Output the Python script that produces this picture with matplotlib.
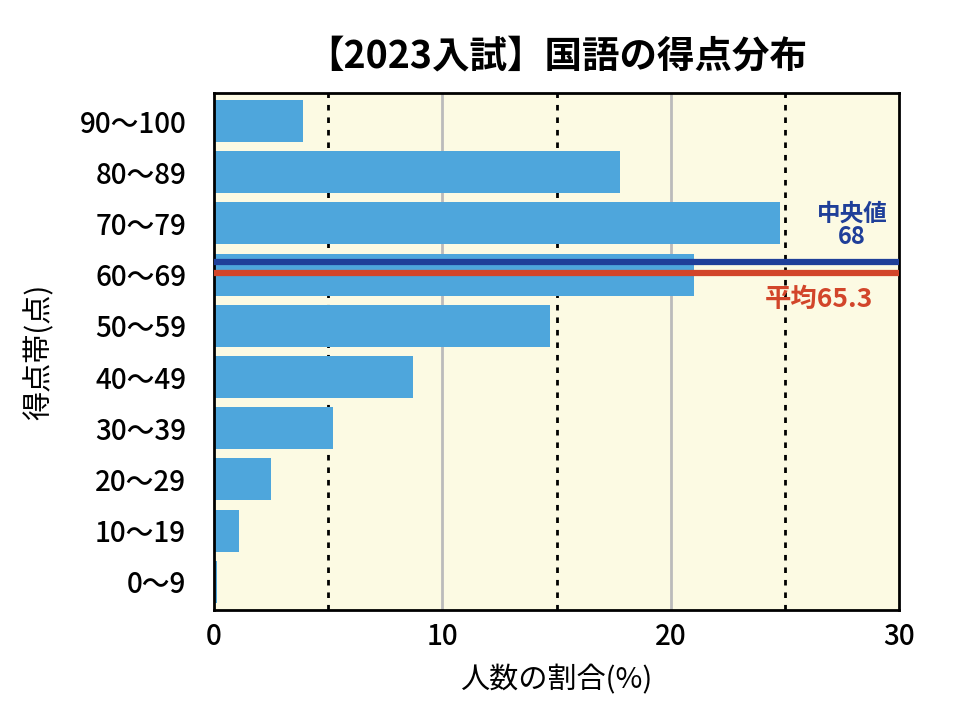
import matplotlib
matplotlib.use("Agg")
import matplotlib.pyplot as plt

plt.rcParams['font.family'] = ['Noto Sans CJK JP', 'DejaVu Sans']

bands = ["0〜9", "10〜19", "20〜29", "30〜39", "40〜49",
         "50〜59", "60〜69", "70〜79", "80〜89", "90〜100"]
ratio = [0.15, 1.1, 2.5, 5.2, 8.7, 14.7, 21.0, 24.8, 17.8, 3.9]
median = 68
mean = 65.3


def score_pos(v):
  # 60~69 の帯の中で位置を決める
  return 6 + (v - 65) / 10 * 0.8


fig = plt.figure(figsize=(9.61, 7.15), dpi=100)
ax = fig.add_axes([0.2227, 0.1469, 0.7128, 0.7231])
ax.set_facecolor("#fcfae3")

ax.barh(range(len(bands)), ratio, height=0.82, color="#4ea6dc", zorder=2)

for x in [10, 20]:
  ax.axvline(x, color="#bbbbbb", lw=2, zorder=1)
for x in [5, 15, 25]:
  ax.axvline(x, color="black", lw=2, ls=(0, (2, 2.5)), zorder=1)

ax.axhline(score_pos(median), color="#1f3f99", lw=4.5, zorder=3)
ax.axhline(score_pos(mean), color="#d2452a", lw=4.5, zorder=3)

ax.text(27.95, score_pos(median) + 0.27, "中央値\n" + str(median), color="#1f3f99",
        fontsize=17, fontweight="bold", ha="center", va="bottom", linespacing=0.95)
ax.text(26.5, score_pos(mean) - 0.25, "平均" + str(mean), color="#d2452a",
        fontsize=19, fontweight="bold", ha="center", va="top")

ax.set_xlim(0, 30)
ax.set_ylim(-0.55, 9.55)
ax.set_xticks([0, 10, 20, 30])
ax.set_yticks(range(len(bands)))
ax.set_yticklabels(bands)
ax.tick_params(length=0, labelsize=20)
ax.tick_params(axis="y", pad=20)
ax.tick_params(axis="x", pad=9)
for lab in ax.get_xticklabels() + ax.get_yticklabels():
  lab.set_fontweight("medium")
for s in ax.spines.values():
  s.set_linewidth(2)

ax.set_xlabel("人数の割合(%)", fontsize=21, labelpad=10)
ax.set_ylabel("得点帯(点)", fontsize=21, labelpad=18)
ax.set_title("【2023入試】国語の得点分布", fontsize=27, fontweight="bold", pad=18)

fig.savefig("out.png", dpi=100)
